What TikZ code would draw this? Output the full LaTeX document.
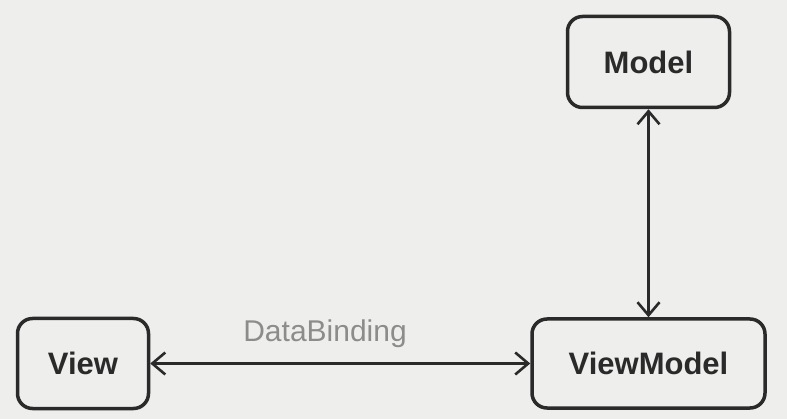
\documentclass[tikz,border=0pt]{standalone}
\usepackage{fontspec}
\setmainfont{Liberation Sans}
\usepackage{xcolor}
\usepackage{tikz}
\usetikzlibrary{arrows.meta, positioning}
\definecolor{paper}{HTML}{EEEEEC}
\definecolor{ink}{HTML}{2A2A2A}
\definecolor{faded}{HTML}{8C8C8C}

\begin{document}
\begin{tikzpicture}[
    x=1pt, y=-1pt,
    every node/.style={font=\fontsize{30}{35}\selectfont},
    block/.style={rectangle, draw=ink, rounded corners=15pt, line width=3.5pt,
                  text=ink, font=\fontsize{31}{36}\selectfont\bfseries,
                  inner sep=0pt},
    arrow/.style={{Straight Barb[length=13pt, width=22pt, line width=2.6pt]}-{Straight Barb[length=13pt, width=22pt, line width=2.6pt]},
                  line width=2.6pt, color=ink}
]

% Page
\fill[paper] (0,0) rectangle (787,419);
\useasboundingbox (0,0) rectangle (787,419);

% Boxes
\node[block, minimum width=233pt, minimum height=89pt] (vm) at (648.5,363.5) {ViewModel};
\node[block, minimum width=162pt, minimum height=91pt, above=208pt of vm] (model) {Model};
\node[block, minimum width=131pt, minimum height=90pt, left=380pt of vm] (view) {View};

% Arrows
\draw[arrow] (model.south) -- (model.south |- vm.north);
\draw[arrow] (view.east) -- (view.east -| vm.west)
    node[pos=0.46, yshift=22pt, anchor=base, text=faded] (bind) {DataBinding};

\end{tikzpicture}
\end{document}
